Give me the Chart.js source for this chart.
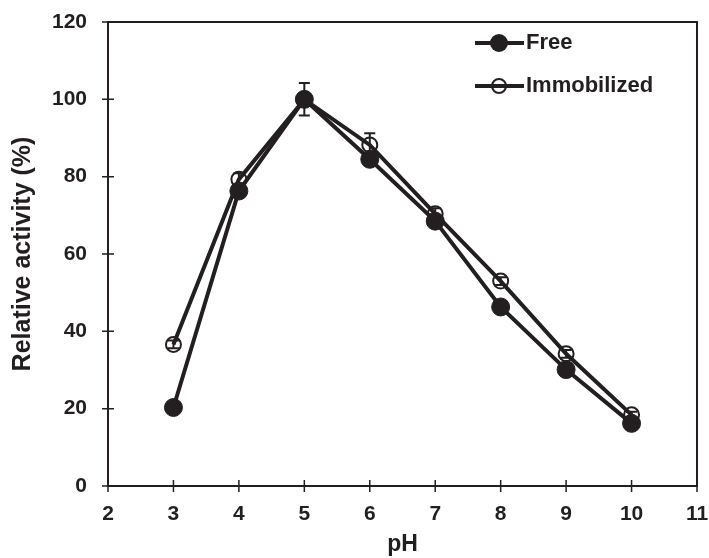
<!DOCTYPE html>
<html><head><meta charset="utf-8">
<script src="https://cdn.jsdelivr.net/npm/chart.js@4/dist/chart.umd.min.js"></script>
<style>html,body{margin:0;padding:0;background:#fff}#wrap{width:709px;height:558px}</style>
</head><body><div id="wrap"><canvas id="c" width="709" height="558"></canvas></div>
<script>
const phValues = [3, 4, 5, 6, 7, 8, 9, 10];
const freeActivity = [20.3, 76.3, 100, 84.5, 68.5, 46.3, 30.1, 16.2];
const freeError = [0.8, 1.0, 4.2, 1.2, 1.0, 1.0, 1.0, 0.8];
const immobActivity = [36.6, 79.3, 100, 88.2, 70.4, 53.0, 34.2, 18.4];
const immobError = [1.0, 1.6, 1.0, 3.0, 1.4, 1.0, 1.0, 0.8];
const xTicks = [2, 3, 4, 5, 6, 7, 8, 9, 10, 11];
const yTicks = [0, 20, 40, 60, 80, 100, 120];
const seriesNames = ['Free', 'Immobilized'];
const ink = '#231f20';
const FONT = '"Liberation Sans", Arial, sans-serif';

const pts = (xs, ys) => xs.map((x, i) => ({x: x, y: ys[i]}));

const errPlugin = {
  id: 'err',
  beforeDatasetsDraw(chart) {
    const ctx = chart.ctx, xs = chart.scales.x, ys = chart.scales.y;
    ctx.save();
    ctx.strokeStyle = ink; ctx.lineWidth = 2;
    [[freeActivity, freeError], [immobActivity, immobError]].forEach(([v, e]) => {
      phValues.forEach((p, i) => {
        const px = xs.getPixelForValue(p);
        const t = ys.getPixelForValue(v[i] + e[i]);
        const b = ys.getPixelForValue(v[i] - e[i]);
        ctx.beginPath();
        ctx.moveTo(px, t); ctx.lineTo(px, b);
        ctx.moveTo(px - 5.5, t); ctx.lineTo(px + 5.5, t);
        ctx.moveTo(px - 5.5, b); ctx.lineTo(px + 5.5, b);
        ctx.stroke();
      });
    });
    ctx.restore();
  }
};

const framePlugin = {
  id: 'frame',
  afterDraw(chart) {
    const ctx = chart.ctx, a = chart.chartArea, xs = chart.scales.x, ys = chart.scales.y;
    ctx.save();
    ctx.strokeStyle = ink; ctx.lineWidth = 2;
    ctx.strokeRect(a.left, a.top, a.right - a.left, a.bottom - a.top);
    ctx.lineWidth = 1.5;
    ctx.beginPath();
    yTicks.forEach(v => { const y = ys.getPixelForValue(v); ctx.moveTo(a.left - 6, y); ctx.lineTo(a.left + 6, y); });
    xTicks.forEach(v => { const x = xs.getPixelForValue(v); ctx.moveTo(x, a.bottom - 6); ctx.lineTo(x, a.bottom + 6); });
    ctx.stroke();
    // legend
    const items = [{y: 43, filled: true}, {y: 86, filled: false}];
    items.forEach((it, i) => {
      ctx.strokeStyle = ink;
      ctx.beginPath(); ctx.arc(499, it.y, it.filled ? 9 : 7, 0, Math.PI * 2);
      if (it.filled) { ctx.fillStyle = ink; ctx.fill(); }
      else { ctx.lineWidth = 2; ctx.stroke(); }
      ctx.lineWidth = 4;
      ctx.beginPath(); ctx.moveTo(475, it.y); ctx.lineTo(524, it.y); ctx.stroke();
      ctx.fillStyle = ink; ctx.font = 'bold 22px ' + FONT;
      ctx.textBaseline = 'middle'; ctx.textAlign = 'left';
      ctx.fillText(seriesNames[i], 526, it.y);
    });
    ctx.restore();
  }
};

new Chart(document.getElementById('c'), {
  type: 'scatter',
  data: {
    datasets: [
      {label: seriesNames[0], data: pts(phValues, freeActivity), showLine: true,
       borderColor: ink, borderWidth: 4, pointRadius: 9, pointBackgroundColor: ink,
       pointBorderColor: ink, pointBorderWidth: 1},
      {label: seriesNames[1], data: pts(phValues, immobActivity), showLine: true,
       borderColor: ink, borderWidth: 4, pointRadius: 7.5, pointBackgroundColor: 'rgba(255,255,255,0)',
       pointBorderColor: ink, pointBorderWidth: 2}
    ]
  },
  options: {
    responsive: false, animation: false,
    layout: {padding: {top: 22, right: 12, left: 0, bottom: 0}},
    plugins: {legend: {display: false}, tooltip: {enabled: false}},
    scales: {
      x: {type: 'linear', min: 2, max: 11,
          afterBuildTicks: s => { s.ticks = xTicks.map(v => ({value: v})); },
          afterFit: s => { s.height = 72; s.paddingLeft = 0; s.paddingRight = 0; },
          grid: {display: false, drawTicks: false}, border: {display: false},
          ticks: {color: ink, padding: 16, maxRotation: 0, font: {family: FONT, size: 21, weight: 'bold'}},
          title: {display: true, text: 'pH', color: ink, padding: {top: 0, bottom: 0}, font: {family: FONT, size: 23, weight: 'bold'}}},
      y: {min: 0, max: 120,
          afterBuildTicks: s => { s.ticks = yTicks.map(v => ({value: v})); },
          afterFit: s => { s.width = 108; s.paddingTop = 0; s.paddingBottom = 0; },
          grid: {display: false, drawTicks: false}, border: {display: false},
          ticks: {color: ink, padding: 21, font: {family: FONT, size: 21, weight: 'bold'}},
          title: {display: true, text: 'Relative activity (%)', color: ink, padding: {top: 8, bottom: 0}, font: {family: FONT, size: 25, weight: 'bold'}}}
    }
  },
  plugins: [errPlugin, framePlugin]
});
</script></body></html>
